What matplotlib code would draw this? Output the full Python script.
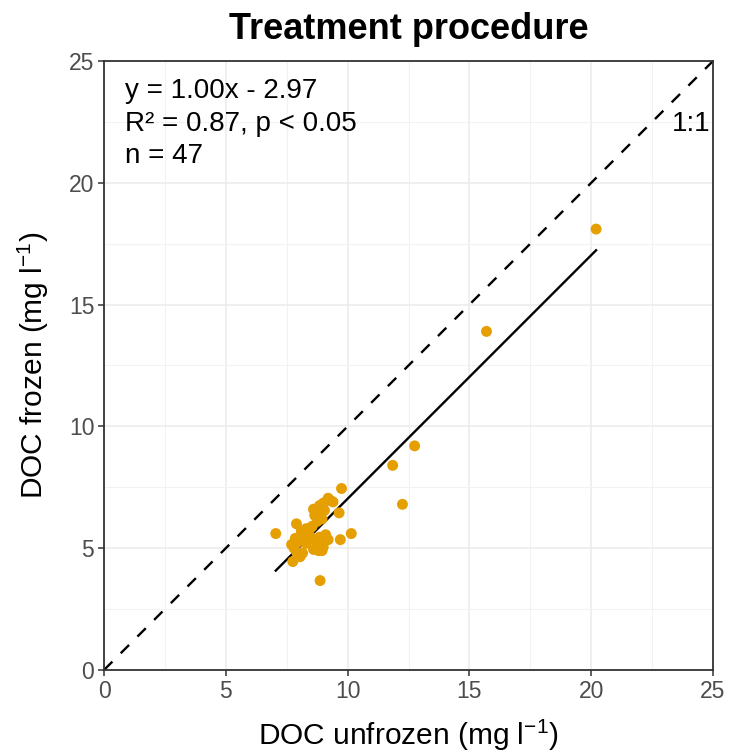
import numpy as np
import matplotlib
matplotlib.use("Agg")
import matplotlib.pyplot as plt

plt.rcParams['font.family'] = ['Liberation Sans', 'DejaVu Sans']
plt.rcParams['mathtext.fontset'] = 'custom'
plt.rcParams['mathtext.rm'] = 'Liberation Sans'
plt.rcParams['mathtext.default'] = 'rm'

# DOC values (mg l-1)
doc_unfrozen = [20.2, 15.7, 12.75, 11.85, 12.25, 7.05, 8.87, 10.15, 9.75, 9.2,
                9.4, 8.85, 8.7, 9.05, 8.8, 9.65, 7.9, 8.3, 8.55, 7.85,
                8.2, 8.85, 9.2, 9.7, 7.7, 8.6, 8.95, 8.05, 7.75, 7.9,
                8.95, 8.65, 9.0, 8.75, 8.1, 8.45, 9.1, 7.95, 8.7, 9.0,
                8.8, 8.3, 7.8, 8.6, 9.3, 8.5, 8.15]
doc_frozen = [18.1, 13.9, 9.2, 8.4, 6.8, 5.6, 3.67, 5.6, 7.45, 7.05,
              6.9, 6.75, 6.5, 6.55, 6.25, 6.45, 6.0, 5.8, 5.9, 5.4,
              5.35, 5.45, 5.35, 5.35, 5.15, 4.95, 4.9, 4.65, 4.45, 4.85,
              6.2, 6.35, 6.85, 6.1, 5.7, 5.5, 5.55, 5.25, 5.3, 5.05,
              4.9, 5.2, 5.0, 6.6, 6.95, 5.85, 4.8]

slope, intercept = 1.00, -2.97
stats_lines = ["y = 1.00x - 2.97", "R\u00b2 = 0.87, p < 0.05", "n = 47"]

fig = plt.figure(figsize=(7.31, 7.56), dpi=100)
ax = fig.add_axes([0.1423, 0.1138, 0.8331, 0.8055])

grey = '#333333'
ax.set_xlim(0, 25)
ax.set_ylim(0, 25)
ax.set_xticks(np.arange(0, 26, 5))
ax.set_yticks(np.arange(0, 26, 5))
ax.set_xticks(np.arange(2.5, 25, 5), minor=True)
ax.set_yticks(np.arange(2.5, 25, 5), minor=True)
ax.grid(which='major', color='#EBEBEB', lw=1.1, zorder=0)
ax.grid(which='minor', color='#F2F2F2', lw=0.8, zorder=0)
ax.tick_params(which='minor', length=0)
ax.tick_params(which='major', length=4, width=1.1, color=grey,
               labelcolor='#4D4D4D', labelsize=16.5, pad=3)
for sp in ax.spines.values():
    sp.set_color(grey)
    sp.set_linewidth(1.3)
ax.set_axisbelow(True)

# 1:1 line
ax.plot([0, 25], [0, 25], color='black', ls=(0, (5, 5)), lw=1.7, zorder=2)

# regression line over data range
xs = np.array([min(doc_unfrozen), max(doc_unfrozen)])
ax.plot(xs, slope * xs + intercept, color='black', lw=1.7, zorder=2)

ax.scatter(doc_unfrozen, doc_frozen, s=62, color='#E69F00', edgecolors='none', zorder=3)

for i, t in enumerate(stats_lines):
    ax.text(0.85, 23.75 - i * 1.32, t, fontsize=20, va='center', ha='left')
ax.text(24.9, 22.4, "1:1", fontsize=20, va='center', ha='right')

ax.set_xlabel("DOC unfrozen (mg l$^{-1}$)", fontsize=21.5, labelpad=11)
ax.set_ylabel("DOC frozen (mg l$^{-1}$)", fontsize=21.5, labelpad=13)
ax.set_title("Treatment procedure", fontsize=26, fontweight='bold', pad=16)

fig.savefig("out.png", dpi=100)
